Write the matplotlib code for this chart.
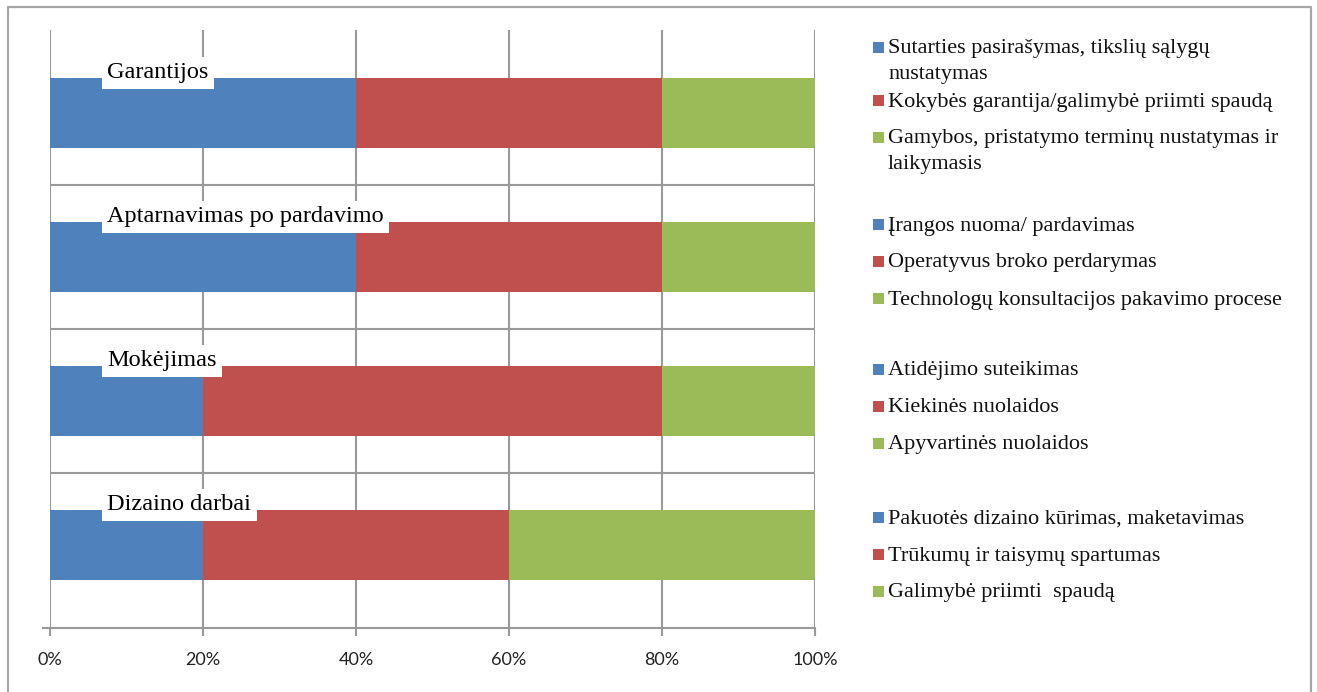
import matplotlib
matplotlib.use("Agg")
import matplotlib.pyplot as plt
from matplotlib.patches import Rectangle
from matplotlib.lines import Line2D
from matplotlib.transforms import Bbox

# ---------------- data ----------------
categories = ["Garantijos", "Aptarnavimas po pardavimo", "Mokėjimas", "Dizaino darbai"]
seg1 = [40, 40, 20, 20]   # blue
seg2 = [40, 40, 60, 40]   # red
seg3 = [20, 20, 20, 40]   # green
tick_values = [0, 20, 40, 60, 80, 100]
tick_labels = ["0%", "20%", "40%", "60%", "80%", "100%"]

legend_groups = [
    ["Sutarties pasirašymas, tikslių sąlygų\nnustatymas",
     "Kokybės garantija/galimybė priimti spaudą",
     "Gamybos, pristatymo terminų nustatymas ir\nlaikymasis"],
    ["Įrangos nuoma/ pardavimas",
     "Operatyvus broko perdarymas",
     "Technologų konsultacijos pakavimo procese"],
    ["Atidėjimo suteikimas",
     "Kiekinės nuolaidos",
     "Apyvartinės nuolaidos"],
    ["Pakuotės dizaino kūrimas, maketavimas",
     "Trūkumų ir taisymų spartumas",
     "Galimybė priimti  spaudą"],
]

colors = ["#4F81BD", "#C0504D", "#9BBB59"]
grid_col = "#9a9a9a"

W, H = 1317, 692
fig = plt.figure(figsize=(W / 100, H / 100), dpi=100)

# ---------------- main axes ----------------
ax = fig.add_axes([50 / W, 1 - 628 / H, 765 / W, 598 / H])
ypos = list(range(len(categories)))
bh = 0.48
left = [0] * len(categories)
for vals, c in zip([seg1, seg2, seg3], colors):
    ax.barh(ypos, vals, left=left, height=bh, color=c, zorder=3, linewidth=0)
    left = [l + v for l, v in zip(left, vals)]

n = len(categories)
ax.set_xlim(0, 100)
ax.set_ylim(n - 0.424, -0.576)
ax.set_xticks(tick_values)
ax.set_xticklabels(tick_labels, fontsize=13, family="Lato", color="#222222")
ax.set_yticks([])
ax.grid(axis="x", color=grid_col, linewidth=1.5, zorder=0)
for s in ["top", "right", "left"]:
    ax.spines[s].set_visible(False)
ax.spines["bottom"].set_color(grid_col)
ax.spines["bottom"].set_linewidth(1.5)
ax.tick_params(axis="x", length=6, width=1.5, color=grid_col, pad=11)
for b in range(1, n):
    ax.axhline(b - 0.5, color=grid_col, linewidth=1.5, zorder=1)
# small extension of the axis line to the left
ax.plot([-0.9, 0], [n - 0.424] * 2, color=grid_col, lw=1.5, clip_on=False)

for i, cat in enumerate(categories):
    ax.text(7.5, i - bh / 2, cat, fontsize=17.5, family="Liberation Serif",
            va="baseline", ha="left", zorder=5,
            bbox=dict(boxstyle="square,pad=0.22", fc="white", ec="none"))

# ---------------- overlay (border + legend) ----------------
ov = fig.add_axes([0, 0, 1, 1])
ov.set_xlim(0, W)
ov.set_ylim(H, 0)
ov.axis("off")
ov.add_line(Line2D([8, 8, 1311, 1311], [H + 5, 7, 7, H + 5], color="#a6a6a6", lw=1.6))

group_first_y = [47, 224, 369, 517]
step = 37
wrap_step = 26
clip = Bbox.from_extents(0, 0, 1282 / W * fig.bbox.width, fig.bbox.height)
for g, entries in enumerate(legend_groups):
    y = group_first_y[g]
    for k, txt in enumerate(entries):
        ov.add_patch(Rectangle((873, y - 5.5), 11, 11, color=colors[k], lw=0))
        lines = txt.split("\n")
        for j, ln in enumerate(lines):
            t = ov.text(888, y + 2 + j * wrap_step, ln, fontsize=16, family="Liberation Serif",
                        va="center", ha="left", color="#111111")
            t.set_clip_box(clip)
            t.set_clip_on(True)
        y += step + (len(lines) - 1) * (wrap_step - 10)

fig.savefig("out.png", dpi=100)
